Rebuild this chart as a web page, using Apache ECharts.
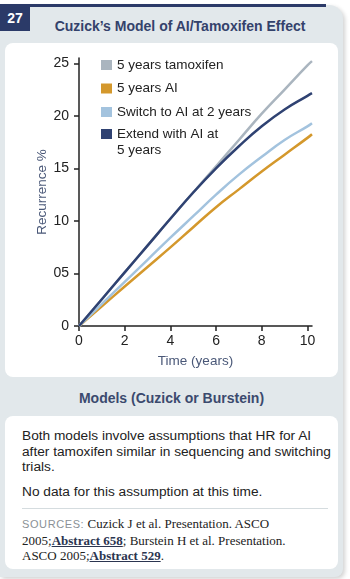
<!DOCTYPE html>
<html>
<head>
<meta charset="utf-8">
<script src="https://cdn.jsdelivr.net/npm/echarts@6/dist/echarts.min.js"></script>
<style>
  html, body { margin: 0; padding: 0; background: #fff; width: 350px; height: 579px; overflow: hidden; }
  body { position: relative; font-family: "Liberation Sans", Arial, sans-serif; }
  .panel { position: absolute; left: 0; top: 5px; width: 343px; height: 572px; background: #e2e8eb;
           border-top-right-radius: 14px; border-bottom-right-radius: 8px;
           box-shadow: 2px 2px 4px rgba(0,0,0,0.18); }
  .topline { position: absolute; left: 0; top: 4px; width: 326px; height: 2.5px; background: #2b3a68; }
  .num { position: absolute; left: 0; top: 5px; width: 30px; height: 26px; background: #2b3a68; color: #fff;
         font-weight: bold; font-size: 14px; line-height: 26px; text-align: center; }
  .title { position: absolute; left: 30px; width: 300px; top: 18px; text-align: center; color: #34426b;
           font-weight: bold; font-size: 14px; }
  .box { position: absolute; left: 5px; width: 333px; background: #fff; border-radius: 8px; }
  #chart { position: absolute; left: 5px; top: 43px; width: 333px; height: 334px; }
  .head { position: absolute; left: 5px; width: 333px; top: 390px; text-align: center; color: #3b4a6e;
          font-weight: bold; font-size: 14px; }
  .body { position: absolute; left: 22px; width: 312px; color: #222; font-size: 13.7px; line-height: 15.5px; }
  .rule { position: absolute; left: 22px; top: 508px; width: 306px; height: 1px; background: #d5dcdf; }
  .src { position: absolute; left: 22px; top: 516px; width: 316px; font-family: "Liberation Serif", serif;
         font-size: 13px; line-height: 15.5px; color: #222; white-space: nowrap; }
  .src .lab { font-family: "Liberation Sans", sans-serif; font-size: 11px; color: #8a9196; letter-spacing: 0.6px; }
  .src u { font-weight: bold; color: #2b3550; }
</style>
</head>
<body>
<div class="panel"></div>
<div class="topline"></div>
<div class="num">27</div>
<div class="title">Cuzick’s Model of AI/Tamoxifen Effect</div>
<div class="box" style="top:43px;height:334px;"></div>
<div id="chart"></div>
<div class="head">Models (Cuzick or Burstein)</div>
<div class="box" style="top:416px;height:153px;"></div>
<div class="body" style="top:428px;">Both models involve assumptions that HR for AI after tamoxifen similar in sequencing and switching trials.</div>
<div class="body" style="top:484px;">No data for this assumption at this time.</div>
<div class="rule"></div>
<div class="src"><span class="lab">SOURCES:</span> Cuzick J et al. Presentation. ASCO<br>2005;<u>Abstract 658</u>; Burstein H et al. Presentation.<br>ASCO 2005;<u>Abstract 529</u>.</div>

<script>
// Follow-up time (years) and cumulative recurrence (%) for each strategy
const years        = [0, 1, 2, 3, 4, 5, 6, 7, 8, 9, 10, 10.2];
const tamoxifen5   = [0, 2.55, 5.1, 7.65, 10.2, 12.7, 15.2, 17.7, 20.2, 22.5, 24.8, 25.2];
const ai5          = [0, 1.88, 3.76, 5.62, 7.48, 9.4, 11.3, 13.0, 14.7, 16.3, 17.9, 18.25];
const switchAt2    = [0, 2.1, 4.2, 6.3, 8.4, 10.45, 12.5, 14.4, 16.1, 17.7, 19.0, 19.3];
const extendAt5    = [0, 2.55, 5.1, 7.65, 10.2, 12.7, 15.0, 17.1, 19.0, 20.6, 21.9, 22.15];

const seriesNames  = ['5 years tamoxifen', '5 years AI', 'Switch to AI at 2 years', 'Extend with AI at\n5 years'];
const seriesColors = ['#aab5bf', '#d4982c', '#a3c3de', '#2f4272'];
const xTicks = [0, 2, 4, 6, 8, 10];
const yTicks = [0, 5, 10, 15, 20, 25];

const seriesValues = [tamoxifen5, ai5, switchAt2, extendAt5];
const pairs = vals => years.map((x, i) => [x, vals[i]]);

const chart = echarts.init(document.getElementById('chart'));
const font = '"Liberation Sans", Arial, sans-serif';
const legendText = { color: '#222', fontSize: 13.5, lineHeight: 16, fontFamily: font };
const axisCommon = {
  axisLine: { show: true, lineStyle: { color: '#222', width: 1.5 } },
  axisTick: { show: true, length: 5, lineStyle: { color: '#222', width: 1.5 } },
  splitLine: { show: false },
  nameMoveOverlap: false,
  nameTextStyle: { color: '#4a5878', fontSize: 13.5, fontFamily: font }
};

chart.setOption({
  animation: false,
  grid: { left: 74, right: 26, top: 15, bottom: 51 },
  legend: [
    {
      data: seriesNames.slice(0, 3),
      orient: 'vertical', left: 91, top: 9,
      itemWidth: 11, itemHeight: 10, itemGap: 7.5, icon: 'rect', selectedMode: false,
      textStyle: legendText
    },
    {
      // two-line entry: a blank leading line keeps the swatch level with the first line
      data: seriesNames.slice(3),
      orient: 'vertical', left: 91, top: 62,
      itemWidth: 11, itemHeight: 10, icon: 'rect', selectedMode: false,
      formatter: name => ' \n' + name,
      textStyle: legendText
    }
  ],
  xAxis: Object.assign({}, axisCommon, {
    type: 'value', min: 0, max: 10.2,
    name: 'Time (years)', nameLocation: 'middle', nameGap: 28,
    axisTick: Object.assign({}, axisCommon.axisTick, { customValues: xTicks }),
    axisLabel: { customValues: xTicks, margin: 8, color: '#222', fontSize: 14, fontFamily: font }
  }),
  yAxis: Object.assign({}, axisCommon, {
    type: 'value', min: 0, max: 25.5,
    name: 'Recurrence %', nameLocation: 'middle', nameGap: 30, nameRotate: 90,
    axisTick: Object.assign({}, axisCommon.axisTick, { customValues: yTicks }),
    axisLabel: { customValues: yTicks, margin: 10, color: '#222', fontSize: 14, fontFamily: font,
                 formatter: v => (v === 5 ? '05' : String(v)) }
  }),
  series: seriesNames.map((name, i) => ({
    name, type: 'line', smooth: true, showSymbol: false,
    data: pairs(seriesValues[i]),
    itemStyle: { color: seriesColors[i] },
    lineStyle: { color: seriesColors[i], width: 2.5 },
    z: 2 + i
  }))
});
</script>
</body>
</html>
